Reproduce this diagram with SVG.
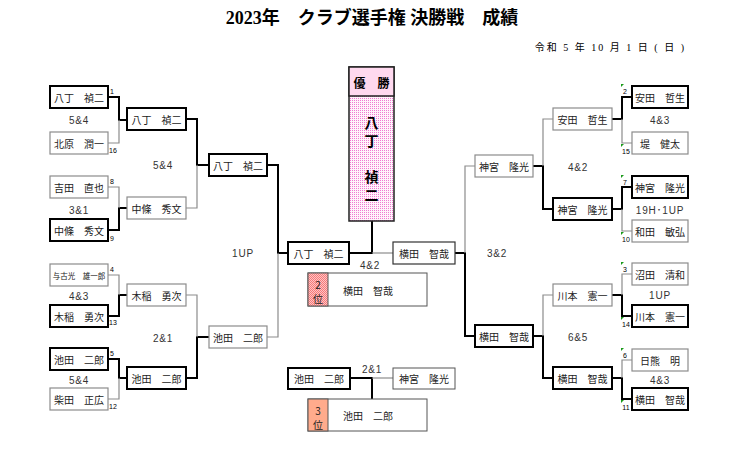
<svg xmlns="http://www.w3.org/2000/svg" width="742" height="462" viewBox="0 0 742 462">
<style>
.bg{fill:#fff}
.w{fill:#fff;stroke:#000;stroke-width:2}
.l{fill:#fff;stroke:#8c8c8c;stroke-width:1.2}
.n{font-family:"Noto Sans CJK JP","Liberation Sans",sans-serif;font-size:10px;fill:#222;text-anchor:middle;dominant-baseline:central}
.s{font-family:"Liberation Sans","Noto Sans CJK JP",sans-serif;font-size:10px;fill:#333;text-anchor:middle;dominant-baseline:central;letter-spacing:0.8px}
.num{font-family:"Liberation Sans",sans-serif;font-size:7px;fill:#000;text-anchor:middle;dominant-baseline:central}
.tk{stroke:#000;stroke-width:2;fill:none}
.tn{stroke:#8c8c8c;stroke-width:1.2;fill:none}
.g{fill:#1a9a1a}
.c{font-family:"Noto Sans CJK JP",sans-serif;font-size:14px;font-weight:bold;fill:#000;text-anchor:middle;dominant-baseline:central}
.v{font-family:"Noto Sans CJK JP",sans-serif;font-size:14px;font-weight:bold;fill:#000;text-anchor:middle;writing-mode:vertical-rl;letter-spacing:4px}
</style>
<defs>
<pattern id="pd" width="2" height="2" patternUnits="userSpaceOnUse">
<rect width="2" height="2" fill="#fff4fb"/><rect width="1" height="1" fill="#f07ad2"/>
</pattern>
<pattern id="p2" width="2" height="2" patternUnits="userSpaceOnUse">
<rect width="2" height="2" fill="#ffc4c4"/><rect width="1" height="1" fill="#f57a7a"/><rect x="1" y="1" width="1" height="1" fill="#f57a7a"/>
</pattern>
</defs>
<rect class="bg" width="742" height="462"/>
<text x="372" y="24" font-family="Liberation Serif,Noto Sans CJK JP,serif" font-size="18" font-weight="bold" text-anchor="middle" fill="#000">2023年　クラブ選手権 決勝戦　成績</text>
<text x="686" y="51" font-family="Liberation Serif,Noto Sans CJK JP,serif" font-size="10" letter-spacing="2" text-anchor="end" fill="#000">令和 5 年 10 月 1 日 ( 日 )</text>

<g id="connectors">
<path class="tk" d="M108,97H119V120H127"/><path class="tn" d="M108,143H119V120"/>
<path class="tk" d="M108,230H119V208H127"/><path class="tn" d="M108,187H119V208"/>
<path class="tk" d="M108,316H119V295H127"/><path class="tn" d="M108,275H119V295"/>
<path class="tk" d="M108,359H119V378H127"/><path class="tn" d="M108,399H119V378"/>
<path class="tk" d="M186,119H197V165H209"/><path class="tn" d="M186,208H197V165"/>
<path class="tk" d="M186,378H197V337H209"/><path class="tn" d="M186,295H197V337"/>
<path class="tk" d="M267,165H278V253H288"/><path class="tn" d="M267,337H278V253"/>
<path class="tk" d="M349,253H372V221"/><path class="tn" d="M372,253H393"/>
<path class="tk" d="M455,253H465V336H475"/><path class="tn" d="M465,253V166H475"/>
<path class="tk" d="M553,209H543V166H533"/><path class="tn" d="M553,119H543V166"/>
<path class="tk" d="M553,378H543V336H533"/><path class="tn" d="M553,295H543V336"/>
<path class="tk" d="M632,97H622V119H612"/><path class="tn" d="M632,143H622V119"/>
<path class="tk" d="M632,187H622V209H612"/><path class="tn" d="M632,231H622V209"/>
<path class="tk" d="M632,316H622V295H612"/><path class="tn" d="M632,274H622V295"/>
<path class="tk" d="M632,399H622V378H612"/><path class="tn" d="M632,360H622V378"/>
<path class="tk" d="M350,378H372V399"/><path class="tn" d="M372,378H393"/>
</g>

<g id="seeds-left">
<text class="num" x="112" y="91">1</text><text class="num" x="113" y="150">16</text>
<text class="num" x="112" y="181">8</text><text class="num" x="112" y="238">9</text>
<text class="num" x="112" y="269">4</text><text class="num" x="113" y="322">13</text>
<text class="num" x="112" y="353">5</text><text class="num" x="113" y="406">12</text>
</g>
<g id="seeds-right">
<path class="g" d="M621,84h3l-3,3z"/><text class="num" x="625" y="91">2</text>
<path class="g" d="M621,144h3l-3,3z"/><text class="num" x="626" y="151">15</text>
<path class="g" d="M621,175h3l-3,3z"/><text class="num" x="625" y="182">7</text>
<path class="g" d="M621,232h3l-3,3z"/><text class="num" x="626" y="239">10</text>
<path class="g" d="M621,262h3l-3,3z"/><text class="num" x="625" y="269">3</text>
<path class="g" d="M621,317h3l-3,3z"/><text class="num" x="626" y="324">14</text>
<path class="g" d="M621,348h3l-3,3z"/><text class="num" x="625" y="355">6</text>
<path class="g" d="M621,400h3l-3,3z"/><text class="num" x="626" y="407">11</text>
</g>

<g id="L1"><rect class="w" x="50" y="86" width="58" height="22"/><text class="n" x="79" y="97">八丁　禎二</text></g>
<g id="L2"><rect class="l" x="50" y="132" width="58" height="22"/><text class="n" x="79" y="143">北原　潤一</text></g>
<g id="L3"><rect class="l" x="50" y="176" width="58" height="22"/><text class="n" x="79" y="187">吉田　直也</text></g>
<g id="L4"><rect class="w" x="50" y="219" width="58" height="22"/><text class="n" x="79" y="230">中條　秀文</text></g>
<g id="L5"><rect class="l" x="50" y="264" width="58" height="22"/><text class="n" x="79" y="275" style="font-size:7.5px">与古光　雄一郎</text></g>
<g id="L6"><rect class="w" x="50" y="305" width="58" height="22"/><text class="n" x="79" y="316">木稲　勇次</text></g>
<g id="L7"><rect class="w" x="50" y="348" width="58" height="22"/><text class="n" x="79" y="359">池田　二郎</text></g>
<g id="L8"><rect class="l" x="50" y="388" width="58" height="22"/><text class="n" x="79" y="399">柴田　正広</text></g>
<g id="L2a"><rect class="w" x="127" y="108" width="59" height="22"/><text class="n" x="156.5" y="119">八丁　禎二</text></g>
<g id="L2b"><rect class="l" x="127" y="197" width="59" height="22"/><text class="n" x="156.5" y="208">中條　秀文</text></g>
<g id="L2c"><rect class="l" x="127" y="284" width="59" height="22"/><text class="n" x="156.5" y="295">木稲　勇次</text></g>
<g id="L2d"><rect class="w" x="127" y="367" width="59" height="22"/><text class="n" x="156.5" y="378">池田　二郎</text></g>
<g id="L3a"><rect class="w" x="209" y="154" width="58" height="22"/><text class="n" x="238" y="165">八丁　禎二</text></g>
<g id="L3b"><rect class="l" x="209" y="326" width="58" height="22"/><text class="n" x="238" y="337">池田　二郎</text></g>
<g id="F1"><rect class="w" x="288" y="242" width="61" height="22"/><text class="n" x="318.5" y="253">八丁　禎二</text></g>
<g id="F2"><rect fill="#fff" stroke="#333" stroke-width="1.2" x="393" y="242" width="62" height="22"/><text class="n" x="424" y="253">横田　智哉</text></g>
<g id="R3a"><rect class="l" x="475" y="155" width="58" height="22"/><text class="n" x="504" y="166">神宮　隆光</text></g>
<g id="R3b"><rect class="w" x="475" y="325" width="58" height="22"/><text class="n" x="504" y="336">横田　智哉</text></g>
<g id="R2a"><rect class="l" x="553" y="108" width="59" height="22"/><text class="n" x="582.5" y="119">安田　哲生</text></g>
<g id="R2b"><rect class="w" x="553" y="198" width="59" height="22"/><text class="n" x="582.5" y="209">神宮　隆光</text></g>
<g id="R2c"><rect class="l" x="553" y="284" width="59" height="22"/><text class="n" x="582.5" y="295">川本　憲一</text></g>
<g id="R2d"><rect class="w" x="553" y="367" width="59" height="22"/><text class="n" x="582.5" y="378">横田　智哉</text></g>
<g id="R1"><rect class="w" x="632" y="86" width="56" height="22"/><text class="n" x="660" y="97">安田　哲生</text></g>
<g id="R2"><rect class="l" x="632" y="132" width="56" height="22"/><text class="n" x="660" y="143">堤　健太</text></g>
<g id="R3"><rect class="w" x="632" y="176" width="56" height="22"/><text class="n" x="660" y="187">神宮　隆光</text></g>
<g id="R4"><rect class="l" x="632" y="220" width="56" height="22"/><text class="n" x="660" y="231">和田　敏弘</text></g>
<g id="R5"><rect class="l" x="632" y="263" width="56" height="22"/><text class="n" x="660" y="274">沼田　清和</text></g>
<g id="R6"><rect class="w" x="632" y="305" width="56" height="22"/><text class="n" x="660" y="316">川本　憲一</text></g>
<g id="R7"><rect class="l" x="632" y="349" width="56" height="22"/><text class="n" x="660" y="360">日熊　明</text></g>
<g id="R8"><rect class="w" x="632" y="388" width="56" height="22"/><text class="n" x="660" y="399">横田　智哉</text></g>

<g id="champion">
<rect x="349" y="67" width="45" height="154" fill="url(#pd)" stroke="#222" stroke-width="1.5"/>
<rect x="349" y="67" width="45" height="29" fill="#ffd9ef" stroke="#222" stroke-width="1.5"/>
<text class="c" x="371.5" y="82" style="font-size:12px">優　勝</text>
<text class="v" x="371.5" y="134">八丁</text>
<text class="v" x="371.5" y="188">禎二</text>
</g>
<g id="second">
<rect x="308" y="273" width="119" height="33" fill="#fff" stroke="#555" stroke-width="1"/>
<rect x="308" y="273" width="20" height="33" fill="url(#p2)" stroke="#555" stroke-width="1"/>
<text class="n" x="318" y="284">2</text>
<text class="n" x="318" y="298">位</text>
<text class="n" x="368" y="290">横田　智哉</text>
</g>
<g id="P1"><rect class="w" x="288" y="368" width="62" height="21"/><text class="n" x="319" y="378.5">池田　二郎</text></g>
<g id="P2"><rect fill="#fff" stroke="#555" stroke-width="1" x="393" y="368" width="62" height="21"/><text class="n" x="424" y="378.5">神宮　隆光</text></g>
<g id="third">
<rect x="308" y="399" width="119" height="32" fill="#fff" stroke="#555" stroke-width="1"/>
<rect x="308" y="399" width="20" height="32" fill="#ffab8c" stroke="#555" stroke-width="1"/>
<text class="n" x="318" y="410">3</text>
<text class="n" x="318" y="424">位</text>
<text class="n" x="368" y="415">池田　二郎</text>
</g>

<g id="scores">
<text class="s" x="79" y="120">5&amp;4</text>
<text class="s" x="79" y="210">3&amp;1</text>
<text class="s" x="79" y="296">4&amp;3</text>
<text class="s" x="79" y="380">5&amp;4</text>
<text class="s" x="163" y="165">5&amp;4</text>
<text class="s" x="163" y="338">2&amp;1</text>
<text class="s" x="243" y="253">1UP</text>
<text class="s" x="370" y="265">4&amp;2</text>
<text class="s" x="372" y="369">2&amp;1</text>
<text class="s" x="497" y="253">3&amp;2</text>
<text class="s" x="578" y="167">4&amp;2</text>
<text class="s" x="578" y="337">6&amp;5</text>
<text class="s" x="660" y="120">4&amp;3</text>
<text class="s" x="660" y="210">19H･1UP</text>
<text class="s" x="660" y="295">1UP</text>
<text class="s" x="660" y="380">4&amp;3</text>
</g>
</svg>
